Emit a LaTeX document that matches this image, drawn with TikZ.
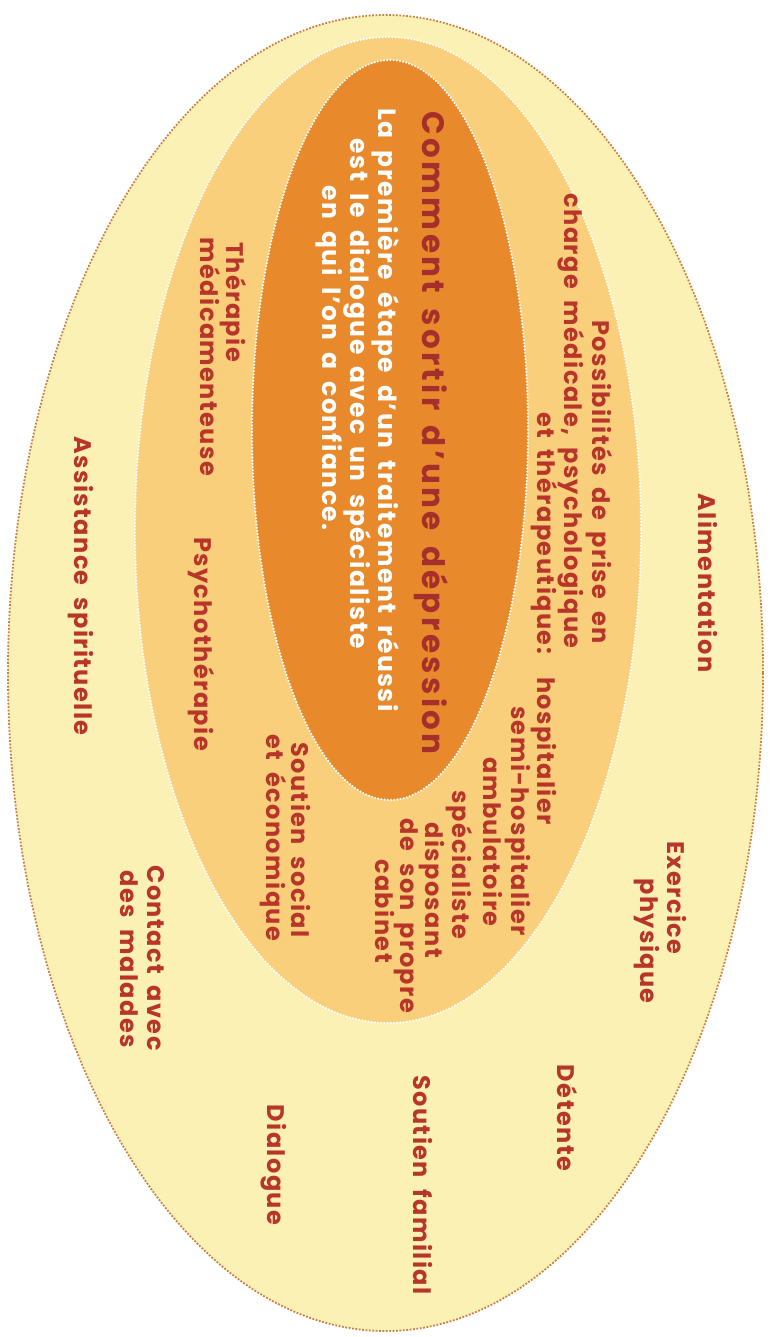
\documentclass[tikz,border=0pt]{standalone}
\usepackage{fontspec}
\setmainfont{Poppins}
\newfontfamily\labfont{Poppins}[LetterSpace=6, WordSpace=1.7]
\newfontfamily\titfont{Poppins}[LetterSpace=11, WordSpace=1.5]
\newfontfamily\subfont{Poppins}[LetterSpace=6, WordSpace=1.8]
\definecolor{outerfill}{HTML}{FCF1B4}
\definecolor{midfill}{HTML}{F9CF7C}
\definecolor{innerfill}{HTML}{E8892C}
\definecolor{edgeout}{HTML}{C98040}
\definecolor{labred}{HTML}{B8352A}
\definecolor{titred}{HTML}{A5302B}
\begin{document}
\begin{tikzpicture}[x=1pt,y=-1pt,
  txt/.style={rotate=-90, inner sep=0pt, text height=1.5ex, text depth=0pt},
  lab/.style={txt, text=labred, font=\labfont\bfseries\fontsize{24}{26}\selectfont},
  tit/.style={txt, text=titred, font=\titfont\bfseries\fontsize{31}{33}\selectfont},
  sub/.style={txt, text=white, font=\subfont\bfseries\fontsize{25}{27}\selectfont},
  whitedots/.style={draw=white, line width=2.4pt, dash pattern=on 0pt off 3.2pt, line cap=round}]
\useasboundingbox (0,0) rectangle (770,1337);
\fill[white] (0,0) rectangle (770,1337);
% rings
\draw[fill=outerfill, draw=edgeout, line width=1.8pt, dash pattern=on 1.8pt off 1.6pt]
  (385.5,673) ellipse [x radius=377.5, y radius=658];
\fill[midfill] (388,530) ellipse [x radius=253, y radius=493];
\draw[whitedots] (388,530) ellipse [x radius=253, y radius=493];
\fill[innerfill] (390,430) ellipse [x radius=138, y radius=370];
\draw[whitedots] (390,430) ellipse [x radius=138, y radius=370];
% centre
\node[tit] (title) at (427,433) {Comment sortir d’une dépression};
\node[sub] (s1) at (383,410) {La première étape d’un traitement réussi};
\node[sub] (s2) at (355,394) {est le dialogue avec un spécialiste};
\node[sub] (s3) at (327,358) {en qui l’on a confiance.};
% middle ring
\node[lab] (p1) at (597,482) {Possibilités de prise en};
\node[lab] (p2) at (569,421) {charge médicale, psychologique};
\node[lab] (p3) at (542,533) {et thérapeutique:};
\node[lab] (h1) at (542,751) {hospitalier};
\node[lab] (h2) at (516,821) {semi-hospitalier};
\node[lab] (h3) at (488,842) {ambulatoire};
\node[lab] (h4) at (457,865) {spécialiste};
\node[lab] (h5) at (430,890) {disposant};
\node[lab] (h6) at (405,916) {de son propre};
\node[lab] (h7) at (380,911) {cabinet};
\node[lab] (t1) at (231,302) {Thérapie};
\node[lab] (t2) at (205,357) {médicamenteuse};
\node[lab] (psy) at (199,644) {Psychothérapie};
\node[lab] (so1) at (296,840) {Soutien social};
\node[lab] (so2) at (271,838) {et économique};
% outer ring
\node[lab] (ali) at (703,583) {Alimentation};
\node[lab] (ex1) at (672,898) {Exercice};
\node[lab] (ex2) at (645,941) {physique};
\node[lab] (det) at (562,1118) {Détente};
\node[lab] (fam) at (418,1185) {Soutien familial};
\node[lab] (dia) at (272,1165) {Dialogue};
\node[lab] (co1) at (152,958) {Contact avec};
\node[lab] (co2) at (125,959) {des malades};
\node[lab] (ass) at (79,586) {Assistance spirituelle};
\end{tikzpicture}
\end{document}
